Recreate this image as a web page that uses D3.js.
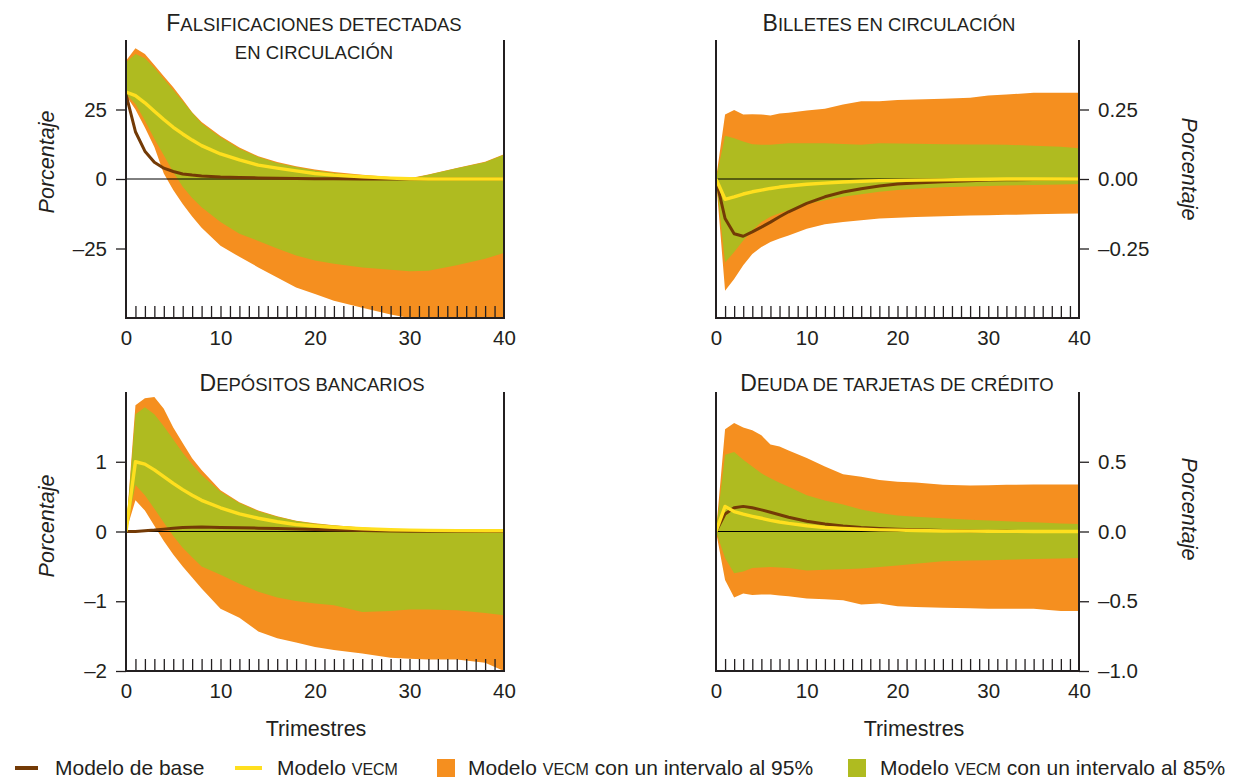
<!DOCTYPE html>
<html>
  <head>
    <meta http-equiv="content-type" content="text/html; charset=utf-8" />
    <title>Respuestas al impulso</title>
    <script type="text/javascript" src="https://d3js.org/d3.v7.min.js"></script>
  </head>
  <body style="margin:0;background:#fff">
    <style type="text/css">
      text { font-family: "Liberation Sans", Arial, sans-serif; fill: #231f20; }
      .axis text { font-size: 20.5px; }
      .axis line { stroke: #231f20; stroke-width: 1.3; }
      .frame { stroke: #231f20; stroke-width: 2; }
    </style>
    <script type="text/javascript">
// quarters after the shock (x values shared by every series)
      var quarters = [0, 1, 2, 3, 4, 5, 6, 7, 8, 10, 12, 14, 16, 18, 20, 22, 25, 28, 30, 32, 35, 38, 40];

// Falsificaciones detectadas en circulacion
      var fals95hi = [42.5, 47, 45, 41, 37, 33, 28.6, 24, 20.5, 15.5, 11.3, 8.2, 6.1, 4.6, 3.4, 2.5, 1.5, 0.7, 0.3, 1.6, 4.0, 6.2, 8.9];
      var fals85hi = [42, 45, 43.4, 40, 36, 32, 28, 23.8, 20, 15, 10.9, 7.9, 5.8, 4.3, 3.1, 2.2, 1.2, 0.5, 0.1, 1.5, 3.9, 6.0, 8.7];
      var fals85lo = [30.5, 27, 21, 14.5, 8.5, 2.5, -2.8, -6.8, -10.2, -15.5, -19.7, -22.3, -25, -27.5, -29.3, -30.5, -31.8, -32.6, -33.2, -33, -31, -28.7, -26.6];
      var fals95lo = [30, 25, 18.5, 11.5, 2, -4, -9, -13.5, -17.5, -24, -28, -31.8, -35.4, -39, -41.4, -43.8, -46.3, -48.7, -50, -51, -52, -53, -54];
      var falsBase = [30.4, 17, 10, 6, 3.9, 2.7, 1.8, 1.4, 1.1, 0.7, 0.5, 0.4, 0.3, 0.2, 0.1, 0.05, 0, 0, 0, 0, 0, 0, 0];
      var falsVecm = [31.3, 30, 27.4, 24.4, 21.4, 18.6, 16.2, 14, 12, 9, 6.9, 5, 3.9, 2.9, 2, 1.4, 0.8, 0.3, 0.1, 0, 0, 0, 0];

// Billetes en circulacion
      var bill95hi = [0, .232, .248, .232, .233, .232, .228, .236, .238, .246, .253, .268, .28, .28, .284, .286, .289, .292, .3, .304, .31, .31, .31];
      var bill85hi = [0, .156, .147, .135, .125, .123, .123, .126, .129, .129, .129, .126, .123, .129, .128, .127, .125, .124, .124, .123, .12, .116, .111];
      var bill85lo = [0, -.3, -.263, -.221, -.185, -.155, -.136, -.123, -.112, -.09, -.076, -.064, -.055, -.046, -.04, -.035, -.03, -.027, -.025, -.023, -.022, -.02, -.018];
      var bill95lo = [0, -.402, -.36, -.31, -.27, -.245, -.227, -.214, -.203, -.179, -.163, -.155, -.148, -.142, -.139, -.137, -.134, -.131, -.13, -.129, -.127, -.125, -.124];
      var billBase = [0, -.142, -.197, -.206, -.19, -.173, -.155, -.136, -.118, -.088, -.064, -.047, -.035, -.025, -.018, -.014, -.01, -.006, -.004, -.003, -.002, -.001, 0];
      var billVecm = [0, -.073, -.064, -.054, -.046, -.04, -.034, -.029, -.025, -.019, -.015, -.011, -.008, -.006, -.005, -.004, -.003, -.002, -.001, 0, 0, 0, 0];

// Depositos bancarios
      var depo95hi = [0, 1.81, 1.91, 1.93, 1.76, 1.49, 1.27, 1.05, .88, .59, .42, .3, .22, .155, .117, .09, .058, .035, .024, .018, .013, .01, .01];
      var depo85hi = [0, 1.68, 1.78, 1.68, 1.51, 1.32, 1.13, .96, .81, .57, .41, .29, .21, .15, .11, .085, .053, .032, .024, .018, .013, .01, .01];
      var depo85lo = [0, .665, .52, .325, .13, -.063, -.233, -.37, -.5, -.62, -.75, -.864, -.947, -.995, -1.034, -1.058, -1.155, -1.14, -1.12, -1.12, -1.13, -1.17, -1.2];
      var depo95lo = [0, .447, .3, .083, -.136, -.33, -.5, -.66, -.816, -1.107, -1.238, -1.432, -1.53, -1.59, -1.655, -1.7, -1.75, -1.81, -1.825, -1.835, -1.835, -1.88, -2.0];
      var depoBase = [0, 0, .01, .02, .034, .045, .058, .061, .063, .058, .053, .048, .044, .037, .029, .023, .015, .008, .005, .003, .002, .001, 0];
      var depoVecm = [0, 1.0, .966, .883, .786, .69, .6, .52, .447, .34, .252, .19, .14, .1, .078, .06, .039, .026, .02, .016, .012, .01, .01];

// Deuda de tarjetas de credito
      var deud95hi = [0, .733, .777, .745, .726, .69, .624, .61, .58, .527, .466, .41, .393, .369, .357, .352, .335, .33, .332, .335, .337, .337, .337];
      var deud85hi = [0, .551, .57, .515, .466, .417, .381, .35, .32, .26, .223, .194, .158, .133, .114, .105, .095, .085, .078, .073, .066, .058, .053];
      var deud85lo = [0, -.19, -.3, -.286, -.262, -.258, -.255, -.258, -.262, -.28, -.274, -.27, -.265, -.255, -.243, -.232, -.214, -.208, -.206, -.203, -.197, -.193, -.19];
      var deud95lo = [0, -.347, -.473, -.444, -.456, -.452, -.451, -.458, -.464, -.48, -.485, -.493, -.524, -.517, -.536, -.541, -.546, -.55, -.553, -.553, -.553, -.57, -.57];
      var deudBase = [0, .126, .17, .18, .17, .155, .138, .12, .102, .073, .053, .039, .029, .022, .017, .012, .007, .004, .002, .001, 0, 0, 0];
      var deudVecm = [0, .18, .143, .124, .109, .095, .08, .068, .058, .041, .029, .022, .016, .012, .01, .007, .004, .003, .002, .001, 0, 0, 0];

      var xTicks = [0, 10, 20, 30, 40];

      var colors = { o95: "#f58f1f", g85: "#afbb20", base: "#733a06", vecm: "#ffdf1e" };

      var svg = d3.select("body").append("svg")
        .attr("width", 1234)
        .attr("height", 778);

      var panels = [
        { id: 0, title: "Falsificaciones detectadas", title2: "en circulación", side: "left",
          x0: 126, x1: 504, y0: 40, y1: 318, dom: [-50, 50], ticks: [-25, 0, 25], fmt: "0f",
          hi95: fals95hi, hi85: fals85hi, lo85: fals85lo, lo95: fals95lo, base: falsBase, vecm: falsVecm,
          labY: 162, xlab: false, xlabX: 315, titleX: 314 },
        { id: 1, title: "Billetes en circulación", side: "right",
          x0: 716, x1: 1079, y0: 40, y1: 318, dom: [-0.5, 0.5], ticks: [-0.25, 0, 0.25], fmt: "2f",
          hi95: bill95hi, hi85: bill85hi, lo85: bill85lo, lo95: bill95lo, base: billBase, vecm: billVecm,
          labY: 169, xlab: false, xlabX: 897, titleX: 889 },
        { id: 2, title: "Depósitos bancarios", side: "left",
          x0: 126, x1: 504, y0: 392, y1: 671, dom: [-2, 2], ticks: [-2, -1, 0, 1], fmt: "0f",
          hi95: depo95hi, hi85: depo85hi, lo85: depo85lo, lo95: depo95lo, base: depoBase, vecm: depoVecm,
          labY: 526, xlab: true, xlabX: 316, titleX: 312 },
        { id: 3, title: "Deuda de tarjetas de crédito", side: "right",
          x0: 716, x1: 1079, y0: 392, y1: 671, dom: [-1, 1], ticks: [-1, -0.5, 0, 0.5], fmt: "1f",
          hi95: deud95hi, hi85: deud85hi, lo85: deud85lo, lo95: deud95lo, base: deudBase, vecm: deudVecm,
          labY: 509, xlab: true, xlabX: 914, titleX: 897 }
      ];

// small caps title: first letter large, rest smaller capitals
      function smallCaps(sel, str, big, small) {
        sel.append("tspan").style("font-size", big + "px").text(str.charAt(0).toUpperCase());
        sel.append("tspan").style("font-size", small + "px").text(str.slice(1).toUpperCase());
      }

      function minusFmt(f) {
        var base = d3.format("." + f);
        return function(d) { return base(d).replace("-", "\u2013").replace("\u2212", "\u2013"); };
      }

      panels.forEach(function(p) {
        var x = d3.scaleLinear().domain([0, 40]).range([p.x0, p.x1]);
        var y = d3.scaleLinear().domain(p.dom).range([p.y1, p.y0]);
        var g = svg.append("g");

        g.append("clipPath").attr("id", "clip" + p.id)
          .append("rect")
            .attr("x", p.x0).attr("y", p.y0)
            .attr("width", p.x1 - p.x0).attr("height", p.y1 - p.y0);

        var band = function(lo, hi) {
          return d3.area()
            .x(function(d, i) { return x(quarters[i]); })
            .y0(function(d, i) { return y(lo[i]); })
            .y1(function(d, i) { return y(hi[i]); })(quarters);
        };
        var line = function(vals) {
          return d3.line()
            .x(function(d, i) { return x(quarters[i]); })
            .y(function(d) { return y(d); })(vals);
        };

        var plot = g.append("g").attr("clip-path", "url(#clip" + p.id + ")");
        plot.append("path").attr("d", band(p.lo95, p.hi95)).attr("fill", colors.o95);
        plot.append("path").attr("d", band(p.lo85, p.hi85)).attr("fill", colors.g85);
        plot.append("line")
          .attr("x1", p.x0).attr("x2", p.x1)
          .attr("y1", y(0)).attr("y2", y(0))
          .attr("stroke", "#000").attr("stroke-width", 1);
        plot.append("path").attr("d", line(p.base))
          .attr("fill", "none").attr("stroke", colors.base).attr("stroke-width", 3)
          .attr("stroke-linejoin", "round");
        plot.append("path").attr("d", line(p.vecm))
          .attr("fill", "none").attr("stroke", colors.vecm).attr("stroke-width", 3.4)
          .attr("stroke-linejoin", "round");

        // minor ticks inside the plot
        g.append("g").attr("class", "axis")
          .attr("transform", "translate(0," + p.y1 + ")")
          .call(d3.axisBottom(x).tickValues(d3.range(1, 40)).tickSize(-12).tickFormat(""))
          .call(function(a) { a.select(".domain").remove(); });

        // major x labels
        g.append("g").attr("class", "axis")
          .attr("transform", "translate(0," + p.y1 + ")")
          .call(d3.axisBottom(x).tickValues(xTicks).tickSize(0).tickPadding(12).tickFormat(d3.format("d")))
          .call(function(a) { a.select(".domain").remove(); });

        // y axis
        var yAxis = p.side == "left" ? d3.axisLeft(y) : d3.axisRight(y);
        g.append("g").attr("class", "axis")
          .attr("transform", "translate(" + (p.side == "left" ? p.x0 : p.x1) + ",0)")
          .call(yAxis.tickValues(p.ticks).tickSize(10).tickPadding(9).tickFormat(minusFmt(p.fmt)))
          .call(function(a) { a.select(".domain").remove(); });

        // frame: left, right and bottom lines
        g.append("line").attr("class", "frame")
          .attr("x1", p.x0).attr("x2", p.x0).attr("y1", p.y0).attr("y2", p.y1);
        g.append("line").attr("class", "frame")
          .attr("x1", p.x1).attr("x2", p.x1).attr("y1", p.y0).attr("y2", p.y1);
        g.append("line").attr("class", "frame")
          .attr("x1", p.x0 - 1).attr("x2", p.x1 + 1).attr("y1", p.y1).attr("y2", p.y1);

        // titles
        var tx = p.titleX || (p.x0 + p.x1) / 2;
        var t1 = g.append("text").attr("x", tx).attr("text-anchor", "middle");
        t1.attr("y", p.y0 == 40 ? 31 : 391);
        smallCaps(t1, p.title, 23, 18.5);
        if (p.title2) {
          g.append("text").attr("x", tx).attr("y", 59).attr("text-anchor", "middle")
            .style("font-size", "18.5px").text(p.title2.toUpperCase());
        }

        // y label
        if (p.side == "left") {
          g.append("text")
            .attr("transform", "translate(54," + p.labY + ") rotate(-90)")
            .attr("text-anchor", "middle")
            .style("font-size", "21.5px").style("font-style", "italic")
            .text("Porcentaje");
        } else {
          g.append("text")
            .attr("transform", "translate(1182," + p.labY + ") rotate(90)")
            .attr("text-anchor", "middle")
            .style("font-size", "21.5px").style("font-style", "italic")
            .text("Porcentaje");
        }

        if (p.xlab) {
          g.append("text").attr("x", p.xlabX).attr("y", 736)
            .attr("text-anchor", "middle").style("font-size", "21.5px")
            .text("Trimestres");
        }
      });

// Legend
      var legend = [
        { kind: "line", color: colors.base, x: 15, w: 23, tx: 55, label: ["Modelo de base"] },
        { kind: "line", color: colors.vecm, x: 235, w: 27, tx: 277, label: ["Modelo ", "vecm", ""] },
        { kind: "rect", color: colors.o95, x: 437, w: 18, tx: 468, label: ["Modelo ", "vecm", " con un intervalo al 95%"] },
        { kind: "rect", color: colors.g85, x: 848, w: 18, tx: 880, label: ["Modelo ", "vecm", " con un intervalo al 85%"] }
      ];
      var lg = svg.append("g");
      legend.forEach(function(d) {
        if (d.kind == "line") {
          lg.append("line").attr("x1", d.x).attr("x2", d.x + d.w)
            .attr("y1", 768).attr("y2", 768)
            .attr("stroke", d.color).attr("stroke-width", 4);
        } else {
          lg.append("rect").attr("x", d.x).attr("y", 759)
            .attr("width", d.w).attr("height", 18).attr("fill", d.color);
        }
        var t = lg.append("text").attr("x", d.tx).attr("y", 775).style("font-size", "21px");
        t.append("tspan").text(d.label[0]);
        if (d.label.length > 1) {
          t.append("tspan").style("font-size", "16px").text(d.label[1].toUpperCase());
          t.append("tspan").text(d.label[2]);
        }
      });
    </script>
  </body>
</html>
